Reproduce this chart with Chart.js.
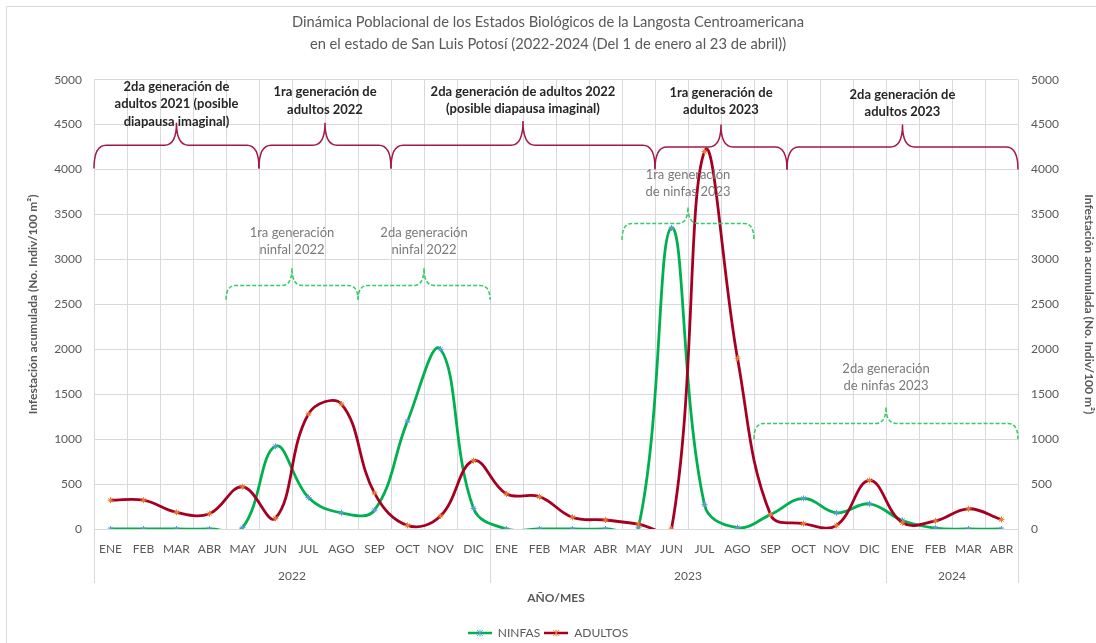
<!DOCTYPE html>
<html>
<head>
<meta charset="utf-8">
<script src="https://cdn.jsdelivr.net/npm/chart.js@4.4.1/dist/chart.umd.min.js"></script>
<style>
  html, body { margin: 0; padding: 0; background: #fff; }
  #wrap { width: 1096px; height: 643px; }
</style>
</head>
<body>
<div id="wrap"><canvas id="chart"></canvas></div>
<script>
// Categories: ENE 2022 .. ABR 2024
const months = [
  'ENE','FEB','MAR','ABR','MAY','JUN','JUL','AGO','SEP','OCT','NOV','DIC',
  'ENE','FEB','MAR','ABR','MAY','JUN','JUL','AGO','SEP','OCT','NOV','DIC',
  'ENE','FEB','MAR','ABR'
];
const years = ['2022', '2023', '2024'];
const monthsPerYear = [12, 12, 4];

// Series values (No. Indiv/100 m2)
const ninfas = [
  0, 0, 0, 0, 15, 920, 350, 180, 210, 1200, 2000, 230,
  0, 0, 0, 0, 20, 3350, 270, 15, 160, 340, 180, 280,
  95, 10, 0, 0
];
const adultos = [
  320, 320, 185, 170, 470, 120, 1280, 1390, 400, 40, 145, 760,
  390, 360, 130, 100, 55, 0, 4200, 1900, 160, 60, 40, 540,
  70, 90, 225, 105
];

// Y ticks
const yMin = 0;
const yMax = 5000;
const yStep = 500;

// Brace annotations (x in category index, y in axis values)
const adultBraces = [
  { from: -0.5, to: 4.5, peak: 2, line: 4270, end: 4010, top: 4520,
    text: ['2da generación de', 'adultos 2021 (posible', 'diapausa imaginal)'], textY: 4925 },
  { from: 4.5, to: 8.5, peak: 6.5, line: 4270, end: 4010, top: 4520,
    text: ['1ra generación de', 'adultos 2022'], textY: 4860 },
  { from: 8.5, to: 16.5, peak: 12.5, line: 4270, end: 4010, top: 4540,
    text: ['2da generación de adultos 2022', '(posible diapausa imaginal)'], textY: 4865 },
  { from: 16.5, to: 20.5, peak: 18.5, line: 4250, end: 4000, top: 4500,
    text: ['1ra generación de', 'adultos 2023'], textY: 4855 },
  { from: 20.5, to: 27.5, peak: 24, line: 4250, end: 4000, top: 4500,
    text: ['2da generación de', 'adultos 2023'], textY: 4835 }
];
const nymphBraces = [
  { from: 3.5, to: 7.5, peak: 5.5, line: 2710, end: 2550, top: 2905,
    text: ['1ra generación', 'ninfal 2022'], textY: 3300 },
  { from: 7.5, to: 11.5, peak: 9.5, line: 2710, end: 2550, top: 2905,
    text: ['2da generación', 'ninfal 2022'], textY: 3300 },
  { from: 15.5, to: 19.5, peak: 17.5, line: 3400, end: 3215, top: 3585,
    text: ['1ra generación', 'de ninfas 2023'], textY: 3940 },
  { from: 19.5, to: 27.5, peak: 23.5, line: 1175, end: 1000, top: 1360,
    text: ['2da generación', 'de ninfas 2023'], textY: 1782 }
];

const FONT = 'Lato, "Open Sans", sans-serif';
const GRID = '#d9d9d9';
const TEXT = '#595959';
const GREEN = '#00B050';
const RED = '#A50021';
const BRACE_RED = '#A3194B';
const BRACE_GREEN = '#33CC66';

// Legend sample: line with star marker
function legendSample(lineColor, markerColor) {
  const c = document.createElement('canvas');
  c.width = 24; c.height = 10;
  const g = c.getContext('2d');
  g.strokeStyle = lineColor; g.lineWidth = 2.5;
  g.beginPath(); g.moveTo(0, 5); g.lineTo(24, 5); g.stroke();
  g.strokeStyle = markerColor; g.lineWidth = 1;
  g.beginPath();
  g.moveTo(9, 2); g.lineTo(15, 8);
  g.moveTo(15, 2); g.lineTo(9, 8);
  g.moveTo(12, 1.5); g.lineTo(12, 8.5);
  g.stroke();
  return c;
}

function drawBrace(ctx, x0, x1, xm, yLine, yEnd, yTop, r) {
  ctx.beginPath();
  ctx.moveTo(x0, yEnd);
  ctx.quadraticCurveTo(x0, yLine, x0 + r, yLine);
  ctx.lineTo(xm - r, yLine);
  ctx.quadraticCurveTo(xm, yLine, xm, yTop);
  ctx.quadraticCurveTo(xm, yLine, xm + r, yLine);
  ctx.lineTo(x1 - r, yLine);
  ctx.quadraticCurveTo(x1, yLine, x1, yEnd);
  ctx.stroke();
}

const bracesPlugin = {
  id: 'braces',
  afterDatasetsDraw(chart) {
    const { ctx, scales: { x, y } } = chart;
    ctx.save();
    ctx.textAlign = 'center';
    ctx.textBaseline = 'middle';

    ctx.strokeStyle = BRACE_RED;
    ctx.lineWidth = 1.5;
    adultBraces.forEach(b => {
      drawBrace(ctx, x.getPixelForValue(b.from), x.getPixelForValue(b.to), x.getPixelForValue(b.peak),
        y.getPixelForValue(b.line), y.getPixelForValue(b.end), y.getPixelForValue(b.top), 12);
      ctx.fillStyle = '#262626';
      ctx.font = 'bold 13px ' + FONT;
      b.text.forEach((t, i) => {
        ctx.fillText(t, x.getPixelForValue(b.peak), y.getPixelForValue(b.textY) + i * 17.5);
      });
    });

    ctx.strokeStyle = BRACE_GREEN;
    ctx.setLineDash([4, 2]);
    nymphBraces.forEach(b => {
      drawBrace(ctx, x.getPixelForValue(b.from), x.getPixelForValue(b.to), x.getPixelForValue(b.peak),
        y.getPixelForValue(b.line), y.getPixelForValue(b.end), y.getPixelForValue(b.top), 10);
    });
    ctx.setLineDash([]);
    nymphBraces.forEach(b => {
      ctx.fillStyle = '#7a7a7a';
      ctx.font = '13px ' + FONT;
      b.text.forEach((t, i) => {
        ctx.fillText(t, x.getPixelForValue(b.peak), y.getPixelForValue(b.textY) + i * 17);
      });
    });
    ctx.restore();
  },
  afterDraw(chart) {
    // Year row under the month labels, with group separators
    const { ctx, chartArea, scales: { x } } = chart;
    ctx.save();
    ctx.strokeStyle = GRID;
    ctx.lineWidth = 1;
    ctx.fillStyle = TEXT;
    ctx.font = '12px ' + FONT;
    ctx.textAlign = 'center';
    ctx.textBaseline = 'middle';
    let start = 0;
    const sepX = [x.getPixelForValue(-0.5)];
    years.forEach((yr, i) => {
      const end = start + monthsPerYear[i];
      const x0 = x.getPixelForValue(start - 0.5);
      const x1 = x.getPixelForValue(end - 0.5);
      sepX.push(x1);
      ctx.fillText(yr, (x0 + x1) / 2, chartArea.bottom + 47);
      start = end;
    });
    sepX.forEach(sx => {
      const px = Math.round(sx) + 0.5;
      ctx.beginPath();
      ctx.moveTo(px, chartArea.bottom);
      ctx.lineTo(px, chartArea.bottom + 54);
      ctx.stroke();
    });
    ctx.restore();
  },
  beforeDraw(chart) {
    // Outer chart frame
    const { ctx, width, height } = chart;
    ctx.save();
    ctx.strokeStyle = GRID;
    ctx.lineWidth = 1;
    ctx.beginPath();
    ctx.moveTo(6.5, height);
    ctx.lineTo(6.5, 6.5);
    ctx.lineTo(width, 6.5);
    ctx.stroke();
    ctx.restore();
  }
};

const ctx = document.getElementById('chart').getContext('2d');
const chart = new Chart(ctx, {
  type: 'line',
  data: {
    labels: months,
    datasets: [
      {
        label: 'NINFAS',
        data: ninfas,
        borderColor: GREEN,
        backgroundColor: GREEN,
        borderWidth: 2.8,
        pointStyle: 'star',
        pointRadius: 3,
        pointBorderWidth: 1,
        pointBorderColor: '#5B9BD5',
        pointBackgroundColor: '#5B9BD5',
        tension: 0.4,
        yAxisID: 'y',
        order: 2
      },
      {
        label: 'ADULTOS',
        data: adultos,
        borderColor: RED,
        backgroundColor: RED,
        borderWidth: 2.8,
        pointStyle: 'star',
        pointRadius: 3,
        pointBorderWidth: 1,
        pointBorderColor: '#ED7D31',
        pointBackgroundColor: '#ED7D31',
        tension: 0.4,
        yAxisID: 'y',
        order: 1
      }
    ]
  },
  options: {
    responsive: true,
    maintainAspectRatio: false,
    animation: false,
    layout: { padding: { top: 0, left: 0, right: 0, bottom: -6 } },
    elements: { line: { capBezierPoints: false } },
    plugins: {
      title: {
        display: true,
        text: [
          'Dinámica Poblacional de los Estados Biológicos de la Langosta Centroamericana',
          'en el estado de San Luis Potosí (2022-2024 (Del 1 de enero al 23 de abril))'
        ],
        color: TEXT,
        font: { family: FONT, size: 14.7, weight: 'normal', lineHeight: 1.45 },
        padding: { top: 12, bottom: 25 }
      },
      legend: {
        position: 'bottom',
        labels: {
          color: TEXT,
          font: { family: FONT, size: 12 },
          usePointStyle: true,
          pointStyleWidth: 24,
          padding: 4,
          generateLabels: function(chart) {
            return [
              { text: 'NINFAS', pointStyle: legendSample(GREEN, '#5B9BD5'), datasetIndex: 0,
                fontColor: TEXT, strokeStyle: GREEN, fillStyle: GREEN, lineWidth: 0 },
              { text: 'ADULTOS', pointStyle: legendSample(RED, '#ED7D31'), datasetIndex: 1,
                fontColor: TEXT, strokeStyle: RED, fillStyle: RED, lineWidth: 0 }
            ];
          }
        }
      },
      tooltip: { enabled: false }
    },
    scales: {
      x: {
        type: 'category',
        offset: true,
        grid: { color: GRID, drawTicks: false, offset: true },
        border: { color: GRID },
        ticks: {
          color: TEXT,
          font: { family: FONT, size: 12 },
          padding: 13,
          autoSkip: false,
          maxRotation: 0
        },
        title: {
          display: true,
          text: 'AÑO/MES',
          color: TEXT,
          font: { family: FONT, size: 12, weight: 'bold' },
          padding: { top: 0, bottom: 18 }
        },
        afterFit: function(scale) { scale.height = 94; }
      },
      y: {
        position: 'left',
        min: yMin,
        max: yMax,
        grid: { color: GRID, drawTicks: false },
        border: { display: false },
        ticks: {
          stepSize: yStep,
          color: TEXT,
          font: { family: FONT, size: 12 },
          padding: 12,
          callback: v => String(v)
        },
        title: {
          display: true,
          text: 'Infestación acumulada (No. Indiv/100 m²)',
          color: TEXT,
          font: { family: FONT, size: 12, weight: 'bold' },
          padding: { top: 26 }
        },
        afterFit: function(scale) { scale.width = 94; }
      },
      y2: {
        position: 'right',
        min: yMin,
        max: yMax,
        grid: { display: false, drawTicks: false },
        border: { display: false },
        ticks: {
          stepSize: yStep,
          color: TEXT,
          font: { family: FONT, size: 12 },
          padding: 13,
          callback: v => String(v)
        },
        title: {
          display: true,
          text: 'Infestación acumulada (No. Indiv/100 m²)',
          color: TEXT,
          font: { family: FONT, size: 12, weight: 'bold' },
          padding: { top: 0 }
        },
        afterFit: function(scale) { scale.width = 78; }
      }
    }
  },
  plugins: [bracesPlugin]
});
</script>
</body>
</html>
